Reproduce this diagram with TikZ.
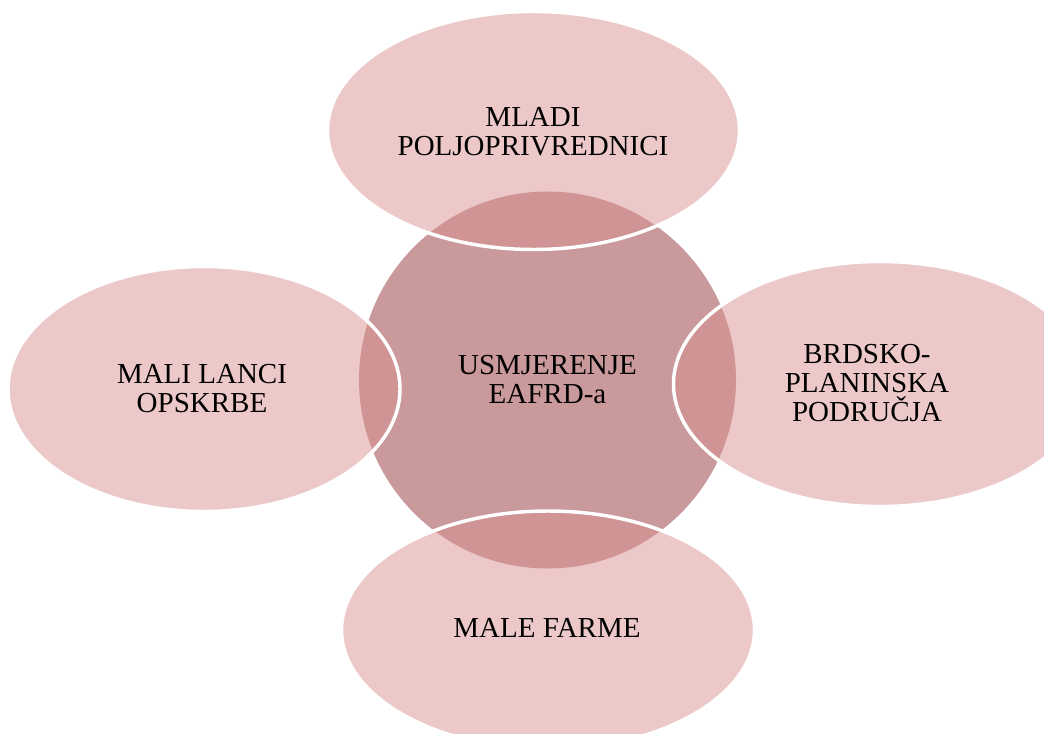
\documentclass[tikz,border=0pt]{standalone}
\usepackage{fontspec}
\setmainfont{Liberation Serif}
\usetikzlibrary{shapes.geometric}
\definecolor{hubfill}{RGB}{201,153,155}
\definecolor{petalfill}{RGB}{217,145,145}
\tikzset{
  hub/.style={circle, fill=hubfill, draw=none, inner sep=0pt, outer sep=0pt, minimum size=282.75pt},
  petal/.style={ellipse, fill=petalfill, fill opacity=0.5, draw=white, draw opacity=1, line width=2.6pt, inner sep=0pt, outer sep=0pt},
  lbl/.style={align=center, inner sep=0pt, text=black, font=\fontsize{21.75pt}{21.75pt}\selectfont}
}
\begin{document}
\begin{tikzpicture}[x=0.75pt, y=-0.75pt]
  \useasboundingbox (0,0) rectangle (1044,734);
  \clip (0,0) rectangle (1044,734);
  \node[hub] (hub) at (547.5,380) {};
  \node[petal, minimum width=309pt, minimum height=178.5pt] (top) at (533.5,130.5) {};
  \node[petal, minimum width=294pt, minimum height=183.75pt] (left) at (204,389) {};
  \node[petal, minimum width=309.75pt, minimum height=183.75pt] (right) at (880,384) {};
  \node[petal, minimum width=309.75pt, minimum height=178.5pt] (bottom) at (548,630) {};
  \node[lbl] (tophub) at (547.5,380) {USMJERENJE\\EAFRD-a};
  \node[lbl] (toptxt) at (533,131.5) {MLADI\\POLJOPRIVREDNICI};
  \node[lbl] (lefttxt) at (202,388.5) {MALI LANCI\\OPSKRBE};
  \node[lbl] (righttxt) at (867,383.5) {BRDSKO-\\PLANINSKA\\PODRUČJA};
  \node[lbl] (bottomtxt) at (547,628) {MALE FARME};
\end{tikzpicture}
\end{document}
